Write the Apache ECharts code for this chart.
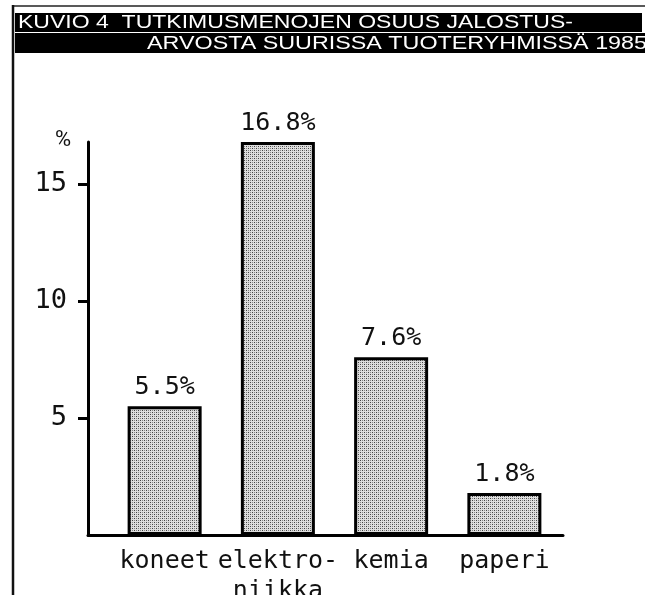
<!DOCTYPE html>
<html>
<head>
<meta charset="utf-8">
<script src="https://cdn.jsdelivr.net/npm/echarts@6/dist/echarts.min.js"></script>
<style>
  html, body { margin: 0; padding: 0; background: #fff; }
  #chart { width: 645px; height: 595px; }
</style>
</head>
<body>
<div id="chart"></div>
<script>
// data
const categories = ['koneet', 'elektro-\nniikka', 'kemia', 'paperi'];
const values = [5.5, 16.8, 7.6, 1.8];
const yTicks = [5, 10, 15];
const titleLines = [
  'KUVIO 4  TUTKIMUSMENOJEN OSUUS JALOSTUS-',
  'ARVOSTA SUURISSA TUOTERYHMISSÄ 1985'
];

const MONO = '"DejaVu Sans Mono", monospace';
const SANS = '"Liberation Sans Narrow", "Liberation Sans", Arial, sans-serif';

// dotted raster fill like the print
const pat = document.createElement('canvas');
pat.width = 4;
pat.height = 4;
const pctx = pat.getContext('2d');
pctx.fillStyle = '#dedede';
pctx.fillRect(0, 0, 4, 4);
pctx.fillStyle = '#444';
pctx.fillRect(0, 0, 1, 1);
pctx.fillRect(2, 2, 1, 1);
pctx.fillStyle = '#888';
pctx.fillRect(2, 0, 1, 1);
pctx.fillRect(0, 2, 1, 1);

// stretch title text to the width it has in the scan
const mctx = document.createElement('canvas').getContext('2d');
function fitScale(text, font, width) {
  mctx.font = font;
  return width / mctx.measureText(text).width;
}
const f1 = '18px ' + SANS;
const f2 = '19px ' + SANS;

const myChart = echarts.init(document.getElementById('chart'));
const option = {
  animation: false,
  backgroundColor: '#fff',
  graphic: [
    // frame
    { type: 'line', shape: { x1: 13, y1: 6, x2: 645, y2: 6 }, style: { stroke: '#222', lineWidth: 1.5 } },
    { type: 'line', shape: { x1: 13, y1: 5, x2: 13, y2: 595 }, style: { stroke: '#111', lineWidth: 2.5 } },
    // title band
    { type: 'rect', shape: { x: 15, y: 13, width: 627, height: 19 }, style: { fill: '#000' } },
    { type: 'rect', shape: { x: 15, y: 33, width: 630, height: 20 }, style: { fill: '#000' } },
    {
      type: 'text', x: 18, y: 23, scaleX: fitScale(titleLines[0], f1, 555),
      style: { text: titleLines[0], font: f1, fill: '#fff', verticalAlign: 'middle' }
    },
    {
      type: 'text', x: 147, y: 44, scaleX: fitScale(titleLines[1], f2, 500),
      style: { text: titleLines[1], font: f2, fill: '#fff', verticalAlign: 'middle' }
    }
  ],
  grid: [
    { left: 88, right: 82, top: 142, bottom: 60, outerBoundsMode: 'none' },
    { left: 108, right: 84, top: 142, bottom: 60, outerBoundsMode: 'none' }
  ],
  xAxis: [
    {
      type: 'value', gridIndex: 0, min: 0, max: 1,
      axisLine: { show: true, lineStyle: { color: '#000', width: 3 } },
      axisTick: { show: false },
      axisLabel: { show: false },
      splitLine: { show: false }
    },
    {
      type: 'category', gridIndex: 1, data: categories,
      axisLine: { show: false },
      axisTick: { show: false },
      axisLabel: {
        color: '#111', fontFamily: MONO, fontSize: 25, lineHeight: 30,
        margin: 11, interval: 0
      }
    }
  ],
  yAxis: [
    {
      type: 'value', gridIndex: 0, min: 0, max: 16.8,
      name: '%', nameLocation: 'end', nameGap: 2,
      nameTextStyle: {
        color: '#111', fontFamily: 'Roboto, sans-serif', fontSize: 22, fontWeight: 'normal',
        align: 'right', verticalAlign: 'middle', padding: [0, 17, 0, 0]
      },
      axisLine: { show: true, lineStyle: { color: '#000', width: 3 } },
      axisTick: { show: true, length: 10, customValues: yTicks, lineStyle: { color: '#000', width: 3 } },
      axisLabel: { customValues: yTicks, color: '#111', fontFamily: MONO, fontSize: 27, margin: 21 },
      splitLine: { show: false }
    },
    {
      type: 'value', gridIndex: 1, min: 0, max: 16.8, show: false,
      splitLine: { show: false }
    }
  ],
  series: [
    {
      type: 'bar',
      xAxisIndex: 1,
      yAxisIndex: 1,
      data: values,
      barWidth: 74,
      itemStyle: {
        color: { image: pat, repeat: 'repeat' },
        borderColor: '#000',
        borderWidth: 3
      },
      label: {
        show: true,
        position: 'top',
        distance: 6,
        color: '#111',
        fontFamily: MONO,
        fontSize: 25,
        formatter: p => p.value.toFixed(1) + '%'
      }
    }
  ]
};
myChart.setOption(option);
</script>
</body>
</html>
